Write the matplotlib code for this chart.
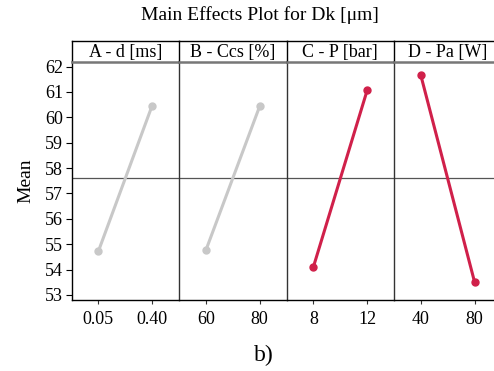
import matplotlib.pyplot as plt

plt.rcParams['font.family'] = ['Liberation Serif', 'DejaVu Serif']

factors = ['A - d [ms]', 'B - Ccs [%]', 'C - P [bar]', 'D - Pa [W]']
levels = [['0.05', '0.40'], ['60', '80'], ['8', '12'], ['40', '80']]
means = [[54.72, 60.46], [54.76, 60.43], [54.10, 61.06], [61.65, 53.50]]
colors = ['#c8c8c8', '#c8c8c8', '#d0204a', '#d0204a']
grand_mean = 57.6

fig = plt.figure(figsize=(4.94, 3.71), dpi=100)
W, H = 494.0, 371.0
left0 = 71.5
pw = 107.5
bot, top, htop = 300.0, 61.5, 40.5

for i in range(4):
    x0 = (left0 + i * pw) / W
    ax = fig.add_axes([x0, 1 - bot / H, pw / W, (bot - top) / H])
    ax.plot([0, 1], means[i], color=colors[i], lw=2.2, marker='o', ms=5, zorder=3)
    ax.axhline(grand_mean, color='#555555', lw=0.9, zorder=1)
    ax.set_xlim(-0.5, 1.5)
    ax.set_ylim(52.8, 62.2)
    ax.set_xticks([0, 1])
    ax.set_xticklabels(levels[i], fontsize=13)
    ax.tick_params(axis='x', length=3, width=0.8, color='#333333', pad=5)
    ax.spines['top'].set_visible(False)
    ax.spines['right'].set_visible(False)
    ax.spines['bottom'].set_linewidth(1.0)
    if i == 0:
        ax.set_yticks(range(53, 63))
        ax.tick_params(axis='y', labelsize=13, length=4, width=0.8, pad=2)
        ax.set_ylabel('Mean', fontsize=14, labelpad=8)
        ax.spines['left'].set_linewidth(1.0)
    else:
        ax.set_yticks([])
        ax.spines['left'].set_color('#333333')
        ax.spines['left'].set_linewidth(1.0)

    hx = fig.add_axes([x0, 1 - top / H, pw / W, (top - htop) / H])
    hx.set_xticks([])
    hx.set_yticks([])
    hx.spines['right'].set_visible(False)
    hx.spines['top'].set_linewidth(1.0)
    hx.spines['left'].set_linewidth(1.0)
    hx.spines['bottom'].set_color('#777777')
    hx.spines['bottom'].set_linewidth(1.8)
    hx.text(0.5, 0.45, factors[i], ha='center', va='center', fontsize=13,
            transform=hx.transAxes)

fig.text(260 / W, 1 - 15 / H, 'Main Effects Plot for Dk [μm]', ha='center', va='center', fontsize=14)
fig.text(264 / W, 1 - 355 / H, 'b)', ha='center', va='center', fontsize=17)

fig.savefig('out.png', dpi=100)
